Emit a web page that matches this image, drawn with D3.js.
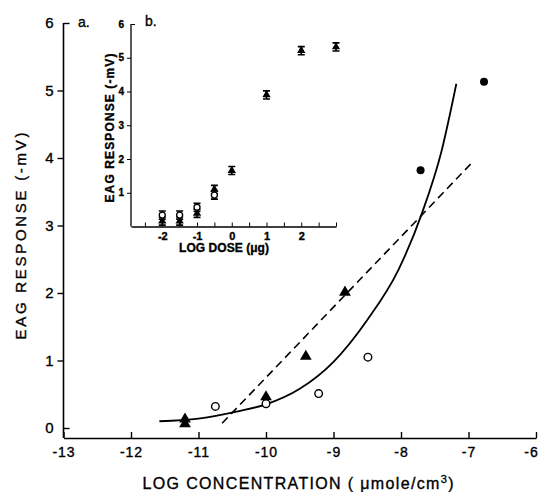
<!DOCTYPE html>
<html>
<head>
<meta charset="utf-8">
<script src="https://cdn.jsdelivr.net/npm/d3@7"></script>
<style>
  body { margin: 0; background: #fff; }
  svg { display: block; font-family: "Liberation Sans", Arial, sans-serif; }
  .axis path, .axis line { stroke: #000; }
  text { fill: #000; stroke: #000; stroke-width: 0.35px; }
</style>
</head>
<body>
<svg id="chart" width="542" height="492"></svg>
<script>
// main panel (a): log concentration vs EAG response
const concTicks = [-13, -12, -11, -10, -9, -8, -7, -6];
const responseTicks = [0, 1, 2, 3, 4, 5, 6];
const triangles = [[-11.2, 0.06], [-11.2, 0.13], [-10.0, 0.46], [-9.41, 1.06], [-8.83, 2.01]];
const openCircles = [[-10.75, 0.32], [-10.0, 0.36], [-9.22, 0.51], [-8.49, 1.05]];
const filledCircles = [[-7.71, 3.82], [-6.77, 5.13]];
const solidCurve = [[-11.58, 0.1], [-11.0, 0.14], [-10.4, 0.25], [-10.0, 0.35], [-9.5, 0.58],
  [-9.0, 0.98], [-8.5, 1.6], [-8.04, 2.34], [-7.69, 3.18], [-7.4, 4.1], [-7.18, 5.1]];
const dashedLine = [[-10.65, 0.07], [-6.92, 3.96]];

// inset panel (b): log dose vs EAG response
const doseLabels = [-2, -1, 0, 1, 2];
const doseMinorTicks = [-2.5, -2, -1.5, -1, -0.5, 0, 0.5, 1, 1.5, 2, 2.5, 3];
const insetTicks = [1, 2, 3, 4, 5, 6];
const doses = [-2, -1.5, -1, -0.5, 0, 1, 2, 3];
const filledResponse = [0.16, 0.16, 0.39, 1.1, 1.66, 3.9, 5.21, 5.32];
const openDoses = [-2, -1.5, -1, -0.5];
const openResponse = [0.34, 0.34, 0.57, 0.93];
const errHalf = 0.12;

const svg = d3.select("#chart");

const x = d3.scaleLinear().domain([-13, -6]).range([63.5, 536]);
const y = d3.scaleLinear().domain([0, 6]).range([428, 23]);
const axisY = 438;

// axes of main panel
svg.append("line")
  .attr("x1", x(-13)).attr("x2", x(-13))
  .attr("y1", y(6)).attr("y2", axisY)
  .attr("stroke", "#000").attr("stroke-width", 1.6);

const xAxis = svg.append("g")
  .attr("class", "axis")
  .attr("transform", `translate(0,${axisY})`)
  .call(d3.axisBottom(x).tickValues(concTicks).tickSizeInner(-6).tickSizeOuter(0)
    .tickPadding(9).tickFormat(d => d));
xAxis.select(".domain").attr("stroke-width", 1.6);
xAxis.selectAll(".tick line").attr("stroke-width", 1.4);
xAxis.selectAll(".tick text").attr("font-size", 14)
  .attr("letter-spacing", 1)
  .attr("dx", d => d === -6 ? -5 : 0);

const yAxis = svg.append("g")
  .attr("class", "axis")
  .attr("transform", `translate(${x(-13)},0)`)
  .call(d3.axisLeft(y).tickValues(responseTicks).tickSize(6).tickPadding(7).tickFormat(d => d));
yAxis.select(".domain").remove();
yAxis.selectAll(".tick line").attr("stroke-width", 1.4)
  .attr("x2", d => (d === 0 || d === 6) ? 6 : -6);
yAxis.selectAll(".tick text").attr("font-size", 15).attr("x", -10);

svg.append("text")
  .attr("transform", `translate(26,236) rotate(-90)`)
  .attr("text-anchor", "middle")
  .attr("font-size", 15)
  .attr("textLength", 207)
  .text("EAG RESPONSE  (-mV)");

const xTitle = svg.append("text")
  .attr("x", 298).attr("y", 489)
  .attr("text-anchor", "middle")
  .attr("font-size", 16)
  .attr("textLength", 311);
xTitle.append("tspan").text("LOG  CONCENTRATION ( \u03bcmole/cm");
xTitle.append("tspan").attr("dy", -6).attr("font-size", 11).text("3");
xTitle.append("tspan").attr("dy", 6).text(")");

svg.append("text").attr("x", 78).attr("y", 27).attr("font-size", 14).text("a.");

// fitted curves
svg.append("path")
  .datum(solidCurve)
  .attr("fill", "none").attr("stroke", "#000").attr("stroke-width", 1.8)
  .attr("d", d3.line().x(d => x(d[0])).y(d => y(d[1])).curve(d3.curveMonotoneX));

svg.append("path")
  .datum(dashedLine)
  .attr("fill", "none").attr("stroke", "#000").attr("stroke-width", 1.6)
  .attr("stroke-dasharray", "8,5")
  .attr("d", d3.line().x(d => x(d[0])).y(d => y(d[1])));

// markers
const tri = d3.symbol().type(d3.symbolTriangle).size(60);
svg.selectAll(".tri").data(triangles).join("path")
  .attr("transform", d => `translate(${x(d[0])},${y(d[1])})`)
  .attr("d", tri).attr("fill", "#000");

svg.selectAll(".open").data(openCircles).join("circle")
  .attr("cx", d => x(d[0])).attr("cy", d => y(d[1])).attr("r", 3.8)
  .attr("fill", "#fff").attr("stroke", "#000").attr("stroke-width", 1.4);

svg.selectAll(".filled").data(filledCircles).join("circle")
  .attr("cx", d => x(d[0])).attr("cy", d => y(d[1])).attr("r", 4)
  .attr("fill", "#000");

// inset panel
const xi = d3.scaleLinear().domain([-2.9, 3]).range([131, 336]);
const yi = d3.scaleLinear().domain([0, 6]).range([226.5, 24]);
const inset = svg.append("g");

inset.append("line")
  .attr("x1", xi(-2.9)).attr("x2", xi(-2.9)).attr("y1", yi(6)).attr("y2", yi(0))
  .attr("stroke", "#000").attr("stroke-width", 1.3);

const xiAxis = inset.append("g")
  .attr("class", "axis")
  .attr("transform", `translate(0,${yi(0)})`)
  .call(d3.axisBottom(xi).tickValues(doseMinorTicks).tickSizeInner(-4).tickSizeOuter(0)
    .tickPadding(6).tickFormat(d => doseLabels.includes(d) ? d : ""));
xiAxis.select(".domain").attr("stroke-width", 1.3);
xiAxis.selectAll(".tick text").attr("font-size", 11).attr("font-weight", "bold");

const yiAxis = inset.append("g")
  .attr("class", "axis")
  .attr("transform", `translate(${xi(-2.9)},0)`)
  .call(d3.axisLeft(yi).tickValues(insetTicks).tickSize(4).tickPadding(3).tickFormat(d => d));
yiAxis.select(".domain").remove();
yiAxis.selectAll(".tick line").attr("x2", d => d === 6 ? 4 : -4);
yiAxis.selectAll(".tick text").attr("font-size", 10).attr("font-weight", "bold");

inset.append("text")
  .attr("transform", `translate(114,128) rotate(-90)`)
  .attr("text-anchor", "middle")
  .attr("font-size", 12).attr("font-weight", "bold")
  .attr("textLength", 149)
  .text("EAG RESPONSE (-mV)");

inset.append("text")
  .attr("x", 224).attr("y", 252)
  .attr("text-anchor", "middle")
  .attr("font-size", 12).attr("font-weight", "bold")
  .attr("textLength", 90)
  .text("LOG DOSE (\u03bcg)");

inset.append("text").attr("x", 145).attr("y", 26).attr("font-size", 14).text("b.");

function errorBars(g, xs, ys) {
  const pts = xs.map((d, i) => [d, ys[i]]);
  g.selectAll(null).data(pts).join("path")
    .attr("d", d => {
      const cx = xi(d[0]), top = yi(d[1] + errHalf), bot = yi(d[1] - errHalf);
      return `M${cx - 3.5},${top}H${cx + 3.5}M${cx},${top}V${bot}M${cx - 3.5},${bot}H${cx + 3.5}`;
    })
    .attr("fill", "none").attr("stroke", "#000").attr("stroke-width", 1.6);
}

errorBars(inset, doses, filledResponse);
errorBars(inset, openDoses, openResponse);

const triSmall = d3.symbol().type(d3.symbolTriangle).size(30);
inset.selectAll(".itri").data(doses.map((d, i) => [d, filledResponse[i]])).join("path")
  .attr("transform", d => `translate(${xi(d[0])},${yi(d[1])})`)
  .attr("d", triSmall).attr("fill", "#000");

inset.selectAll(".iopen").data(openDoses.map((d, i) => [d, openResponse[i]])).join("circle")
  .attr("cx", d => xi(d[0])).attr("cy", d => yi(d[1])).attr("r", 3)
  .attr("fill", "#fff").attr("stroke", "#000").attr("stroke-width", 1.3);
</script>
</body>
</html>
